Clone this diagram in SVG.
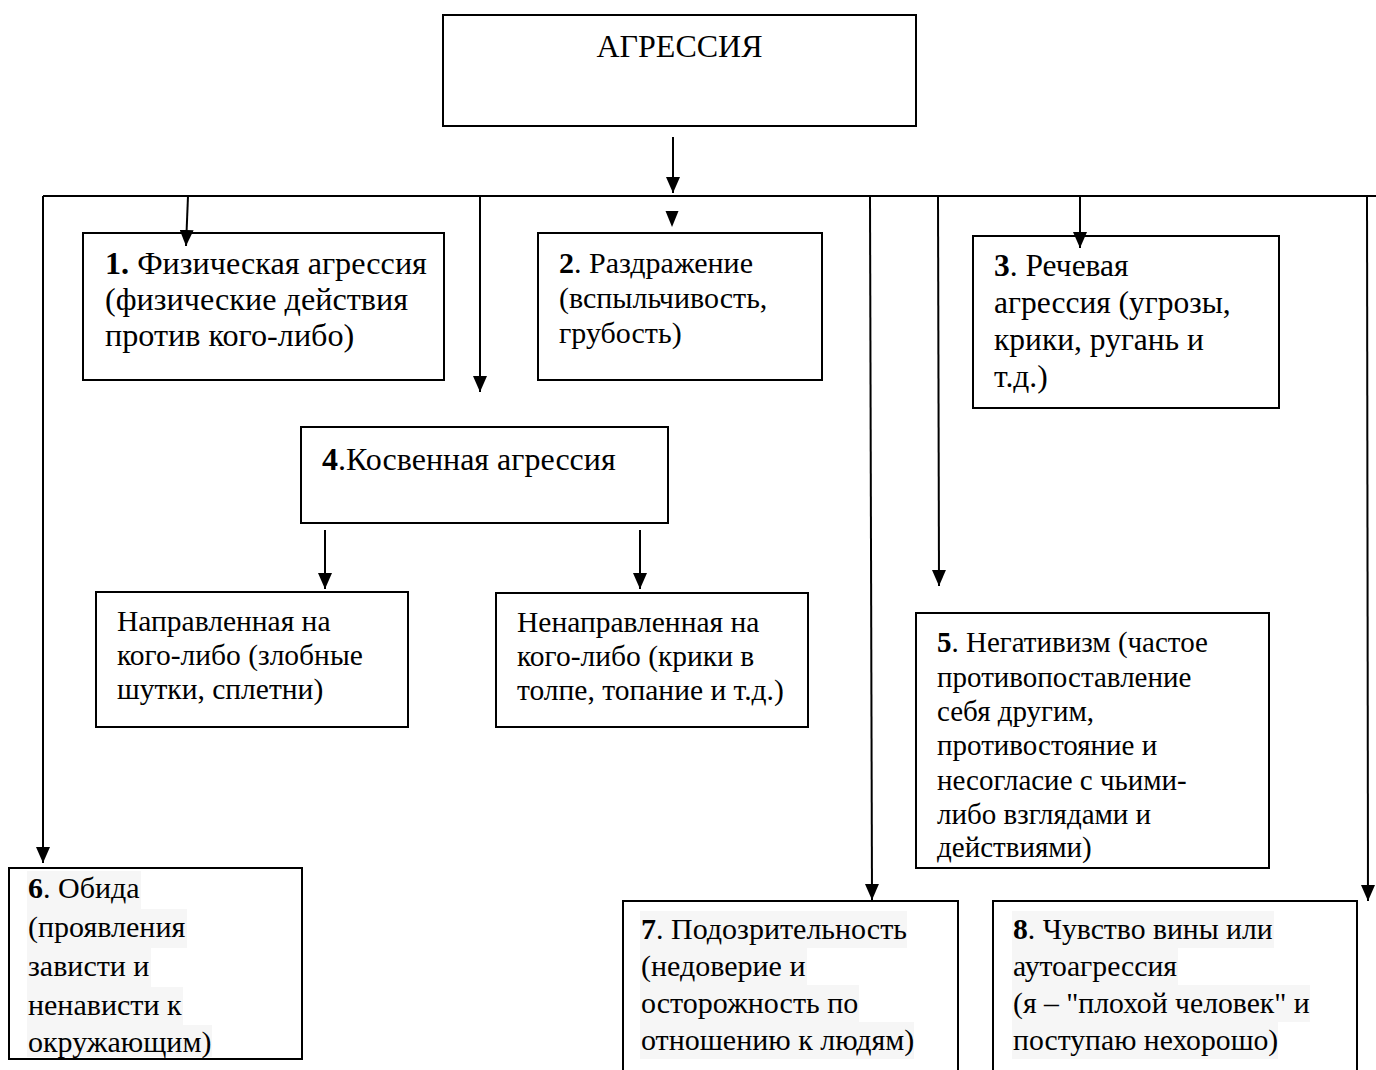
<svg xmlns="http://www.w3.org/2000/svg" width="1376" height="1070" viewBox="0 0 1376 1070">
<defs>
<marker id="ah" markerUnits="userSpaceOnUse" markerWidth="16" markerHeight="14" refX="16" refY="7" orient="auto" viewBox="0 0 16 14">
<path d="M0,0 L16,7 L0,14 Z" fill="#000"/>
</marker>
<style>
.box{fill:#fff;stroke:#000;stroke-width:2}
.t{font-family:"Liberation Serif","Times New Roman",serif;font-size:30px;fill:#000}
.b{font-weight:bold}
.hl{fill:#f6f6f6}
.c{stroke:#000;stroke-width:2;fill:none}
.a{stroke:#000;stroke-width:2;fill:none;marker-end:url(#ah)}
</style>
</defs>
<rect width="1376" height="1070" fill="#fff"/>
<g id="root">
<rect class="box" x="443" y="15" width="473" height="111"/>
<text class="t" x="679.5" y="57" text-anchor="middle" style="font-size:32px">АГРЕССИЯ</text>
</g>
<g id="n1">
<rect class="box" x="83" y="233" width="361" height="147"/>
<text class="t" style="font-size:32.2px" x="105" y="274"><tspan class="b">1.</tspan> Физическая агрессия</text>
<text class="t" style="font-size:32.2px" x="105" y="310">(физические действия</text>
<text class="t" style="font-size:32.2px" x="105" y="346">против кого-либо)</text>
</g>
<g id="n2">
<rect class="box" x="538" y="233" width="284" height="147"/>
<text class="t" x="559" y="273"><tspan class="b">2</tspan>. Раздражение</text>
<text class="t" x="559" y="308">(вспыльчивость,</text>
<text class="t" x="559" y="343">грубость)</text>
</g>
<g id="n3">
<rect class="box" x="973" y="236" width="306" height="172"/>
<text class="t" style="font-size:31.5px" x="994" y="276"><tspan class="b">3</tspan>. Речевая</text>
<text class="t" style="font-size:31.5px" x="994" y="313">агрессия (угрозы,</text>
<text class="t" style="font-size:31.5px" x="994" y="350">крики, ругань и</text>
<text class="t" style="font-size:31.5px" x="994" y="387">т.д.)</text>
</g>
<g id="n4">
<rect class="box" x="301" y="427" width="367" height="96"/>
<text class="t" style="font-size:32px" x="322" y="470"><tspan class="b">4</tspan>.Косвенная агрессия</text>
</g>
<g id="n4a">
<rect class="box" x="96" y="592" width="312" height="135"/>
<text class="t" style="font-size:29.5px" x="117" y="631">Направленная на</text>
<text class="t" style="font-size:29.5px" x="117" y="665">кого-либо (злобные</text>
<text class="t" style="font-size:29.5px" x="117" y="699">шутки, сплетни)</text>
</g>
<g id="n4b">
<rect class="box" x="496" y="593" width="312" height="134"/>
<text class="t" style="font-size:29.5px" x="517" y="632">Ненаправленная на</text>
<text class="t" style="font-size:29.5px" x="517" y="666">кого-либо (крики в</text>
<text class="t" style="font-size:29.5px" x="517" y="700">толпе, топание и т.д.)</text>
</g>
<g id="n5">
<rect class="box" x="916" y="613" width="353" height="255"/>
<text class="t" style="font-size:29px" x="937" y="652"><tspan class="b">5</tspan>. Негативизм (частое</text>
<text class="t" style="font-size:29px" x="937" y="686.5">противопоставление</text>
<text class="t" style="font-size:29px" x="937" y="721">себя другим,</text>
<text class="t" style="font-size:29px" x="937" y="755">противостояние и</text>
<text class="t" style="font-size:29px" x="937" y="789.5">несогласие с чьими-</text>
<text class="t" style="font-size:29px" x="937" y="824">либо взглядами и</text>
<text class="t" style="font-size:29px" x="937" y="857">действиями)</text>
</g>
<g id="n6">
<rect class="box" x="9" y="868" width="293" height="191"/>
<rect class="hl" x="27" y="871" width="114" height="38"/>
<rect class="hl" x="27" y="909" width="160" height="39"/>
<rect class="hl" x="27" y="948" width="124" height="39"/>
<rect class="hl" x="27" y="987" width="156" height="38"/>
<rect class="hl" x="27" y="1025" width="185" height="32"/>
<text class="t" x="28" y="898"><tspan class="b">6</tspan>. Обида</text>
<text class="t" x="28" y="937">(проявления</text>
<text class="t" x="28" y="976">зависти и</text>
<text class="t" x="28" y="1015">ненависти к</text>
<text class="t" x="28" y="1052">окружающим)</text>
</g>
<g id="n7">
<rect class="box" x="623" y="901" width="335" height="180"/>
<rect class="hl" x="640" y="911" width="267" height="37"/>
<rect class="hl" x="640" y="948" width="167" height="37"/>
<rect class="hl" x="640" y="985" width="219" height="37"/>
<rect class="hl" x="640" y="1022" width="274" height="37"/>
<text class="t" x="641" y="939"><tspan class="b">7</tspan>. Подозрительность</text>
<text class="t" x="641" y="976">(недоверие и</text>
<text class="t" x="641" y="1013">осторожность по</text>
<text class="t" x="641" y="1050">отношению к людям)</text>
</g>
<g id="n8">
<rect class="box" x="993" y="901" width="364" height="180"/>
<rect class="hl" x="1012" y="911" width="262" height="37"/>
<rect class="hl" x="1012" y="948" width="166" height="37"/>
<rect class="hl" x="1012" y="985" width="298" height="37"/>
<rect class="hl" x="1012" y="1022" width="266" height="37"/>
<text class="t" style="font-size:29.7px" x="1013" y="939"><tspan class="b">8</tspan>. Чувство вины или</text>
<text class="t" style="font-size:29.7px" x="1013" y="976">аутоагрессия</text>
<text class="t" style="font-size:29.7px" x="1013" y="1013">(я – "плохой человек" и</text>
<text class="t" style="font-size:29.7px" x="1013" y="1050">поступаю нехорошо)</text>
</g>
<g id="connectors">
<line class="c" x1="43" y1="196" x2="1376" y2="196"/>
<line class="a" x1="673" y1="137" x2="673" y2="193"/>
<line class="a" x1="43" y1="196" x2="43" y2="863"/>
<line class="a" x1="188" y1="196" x2="186" y2="246"/>
<line class="a" x1="480" y1="196" x2="480" y2="392"/>
<path d="M665.5,211 L678.5,211 L672,227 Z" fill="#000"/>
<line class="a" x1="870" y1="196" x2="872" y2="900"/>
<line class="a" x1="938" y1="196" x2="939" y2="586"/>
<line class="a" x1="1080" y1="196" x2="1080" y2="248"/>
<line class="a" x1="1367" y1="196" x2="1368" y2="901"/>
<line class="a" x1="325" y1="530" x2="325" y2="589"/>
<line class="a" x1="640" y1="530" x2="640" y2="589"/>
</g>
</svg>
